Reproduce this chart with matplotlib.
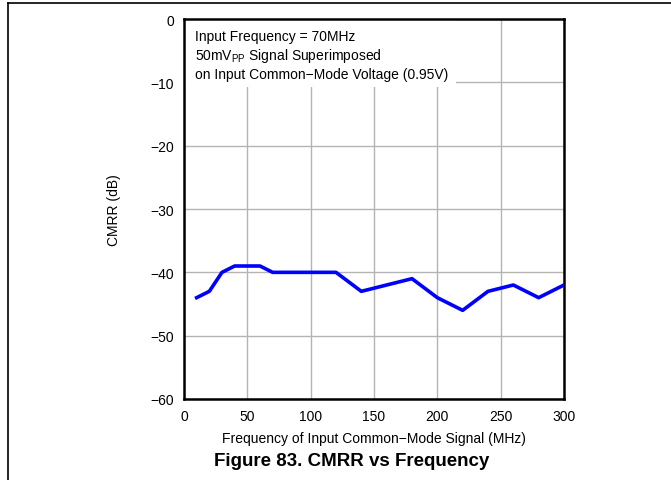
import matplotlib
matplotlib.use("Agg")
import matplotlib.pyplot as plt
from matplotlib.patches import Rectangle
from matplotlib.lines import Line2D

plt.rcParams['font.family'] = ['Liberation Sans', 'DejaVu Sans']

# data
freq_mhz = [10, 20, 30, 40, 60, 70, 120, 140, 180, 200, 220, 240, 260, 280, 300]
cmrr_db = [-44, -43, -40, -39, -39, -40, -40, -43, -41, -44, -46, -43, -42, -44, -42]
x_ticks = [0, 50, 100, 150, 200, 250, 300]
y_ticks = [-60, -50, -40, -30, -20, -10, 0]

fig = plt.figure(figsize=(6.71, 4.81), dpi=100)
ax = fig.add_axes([0.2742, 0.1684, 0.5663, 0.79])

ax.plot(freq_mhz, cmrr_db, color='#0000ff', lw=2.6, zorder=3)
ax.set_xlim(0, 300)
ax.set_ylim(-60, 0)
ax.set_xticks(x_ticks)
ax.set_yticks(y_ticks)
ax.set_yticklabels([str(t).replace('-', '\u2212') for t in y_ticks])
ax.tick_params(length=0, labelsize=10, pad=7)
ax.grid(True, color='#b4b4b4', lw=1)
for s in ax.spines.values():
    s.set_linewidth(1.8)

ax.set_xlabel('Frequency of Input Common\u2212Mode Signal (MHz)', fontsize=10, labelpad=6)
ax.set_ylabel('CMRR (dB)', fontsize=10, labelpad=21)

# white box behind annotation
ax.add_patch(Rectangle((0, 1 - 0.178), 0.717, 0.178, transform=ax.transAxes,
                       facecolor='white', edgecolor='none', zorder=2))
ax.text(0.03, 0.975, 'Input Frequency = 70MHz\n50mV$_{\\mathregular{PP}}$ Signal Superimposed\n'
        'on Input Common\u2212Mode Voltage (0.95V)', transform=ax.transAxes,
        va='top', ha='left', fontsize=10, linespacing=1.25, zorder=4)

fig.text(0.5246, 0.04, 'Figure 83. CMRR vs Frequency', ha='center', va='center',
         fontsize=13.5, fontweight='bold')

# page frame lines
fig.add_artist(Line2D([8 / 671, 1], [1 - 4 / 481, 1 - 4 / 481], color='black', lw=1.2))
fig.add_artist(Line2D([8 / 671, 8 / 671], [0, 1 - 4 / 481], color='black', lw=1.2))

fig.savefig('out.png', dpi=100)
